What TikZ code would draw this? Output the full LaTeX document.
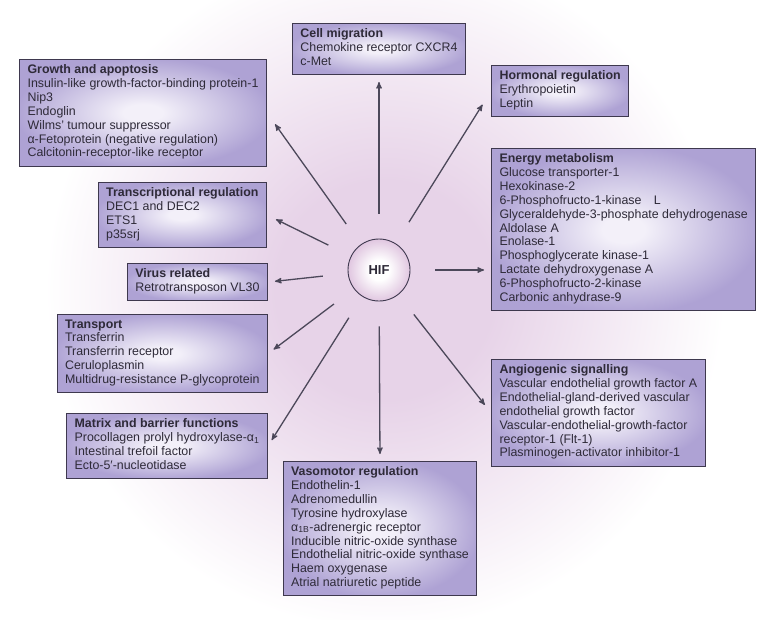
\documentclass[tikz,border=0pt]{standalone}
\usepackage{fontspec}
\setmainfont{Liberation Sans}
\usetikzlibrary{arrows,positioning}

\definecolor{glowpink}{RGB}{231,211,232}
\definecolor{boxin}{RGB}{243,240,249}
\definecolor{boxout}{RGB}{174,162,212}
\definecolor{boxline}{RGB}{62,56,78}
\definecolor{inkgray}{RGB}{46,42,56}
\definecolor{arrowgray}{RGB}{76,72,90}
\definecolor{hifedge}{RGB}{224,198,224}
\pgfdeclareradialshading{hifglow}{\pgfpoint{0bp}{0bp}}{color(0bp)=(glowpink); color(8bp)=(glowpink); color(25bp)=(white); color(50bp)=(white)}
\pgfdeclareradialshading{boxglow}{\pgfpoint{0bp}{0bp}}{color(0bp)=(boxin); color(4bp)=(boxin); color(26bp)=(boxout); color(50bp)=(boxout)}
\pgfdeclareradialshading{hifball}{\pgfpoint{0bp}{0bp}}{color(0bp)=(white); color(8bp)=(white); color(25bp)=(hifedge); color(50bp)=(hifedge)}

\begin{document}
\begin{tikzpicture}[x=1pt,y=-1pt,>=stealth']
       \tikzstyle{box}=[draw=boxline, line width=1.1pt, shading=boxglow, align=left,
                        inner xsep=8pt, inner ysep=5pt, text=inkgray,
                        font=\fontsize{12.4}{13.9}\selectfont,
                        execute at begin node=\strut, execute at end node=\strut]
       \tikzstyle{hifnode}=[circle, draw=boxline, line width=0.9pt, shading=hifball,
                            minimum size=62pt, inner sep=0pt, text=inkgray,
                            font=\fontsize{13}{15}\selectfont\bfseries]
       \tikzstyle{arr}=[->, draw=arrowgray, line width=1.3pt, shorten <=25pt, shorten >=7pt]

       \fill[white] (0,0) rectangle (770,619);
       \useasboundingbox (0,0) rectangle (770,619);
       \path[shading=hifglow] (385,290) circle (340);

       \node[hifnode] (hif) at (379,270) {HIF};

       \node[box, anchor=north] (migr) at (379,23)
         {\textbf{Cell migration}\\Chemokine receptor CXCR4\\c-Met};
       \node[box, anchor=north east] (growth) at (267,59)
         {\textbf{Growth and apoptosis}\\Insulin-like growth-factor-binding protein-1\\Nip3\\Endoglin\\Wilms’ tumour suppressor\\α-Fetoprotein (negative regulation)\\Calcitonin-receptor-like receptor};
       \node[box, anchor=north west] (horm) at (491,65)
         {\textbf{Hormonal regulation}\\Erythropoietin\\Leptin};
       \node[box, anchor=north west] (energy) at (491,148)
         {\textbf{Energy metabolism}\\Glucose transporter-1\\Hexokinase-2\\6-Phosphofructo-1-kinase\quad L\\Glyceraldehyde-3-phosphate dehydrogenase\\Aldolase A\\Enolase-1\\Phosphoglycerate kinase-1\\Lactate dehydroxygenase A\\6-Phosphofructo-2-kinase\\Carbonic anhydrase-9};
       \node[box, anchor=north east] (transc) at (267,182)
         {\textbf{Transcriptional regulation}\\DEC1 and DEC2\\ETS1\\p35srj};
       \node[box, anchor=north east] (virus) at (268,263)
         {\textbf{Virus related}\\Retrotransposon VL30};
       \node[box, anchor=north east] (transp) at (268,314)
         {\textbf{Transport}\\Transferrin\\Transferrin receptor\\Ceruloplasmin\\Multidrug-resistance P-glycoprotein};
       \node[box, anchor=north east] (matrix) at (268,413)
         {\textbf{Matrix and barrier functions}\\Procollagen prolyl hydroxylase-α\textsubscript{1}\\Intestinal trefoil factor\\Ecto-5′-nucleotidase};
       \node[box, anchor=north west] (angio) at (491,359)
         {\textbf{Angiogenic signalling}\\Vascular endothelial growth factor A\\Endothelial-gland-derived vascular\\endothelial growth factor\\Vascular-endothelial-growth-factor\\receptor-1 (Flt-1)\\Plasminogen-activator inhibitor-1};
       \node[box, anchor=north] (vaso) at (380,461)
         {\textbf{Vasomotor regulation}\\Endothelin-1\\Adrenomedullin\\Tyrosine hydroxylase\\α\textsubscript{1B}-adrenergic receptor\\Inducible nitric-oxide synthase\\Endothelial nitric-oxide synthase\\Haem oxygenase\\Atrial natriuretic peptide};

       \path[arr]
       (hif) edge (migr.south)
             edge [shorten >=14pt] (growth.east)
             edge [shorten >=16pt] (horm.west)
             edge (hif -| energy.west)
             edge [shorten >=10pt] (transc.east)
             edge (virus.east)
             edge (transp.east)
             edge (matrix.east)
             edge (vaso.north)
             edge [shorten >=10pt] (angio.west);
     \end{tikzpicture}
\end{document}
